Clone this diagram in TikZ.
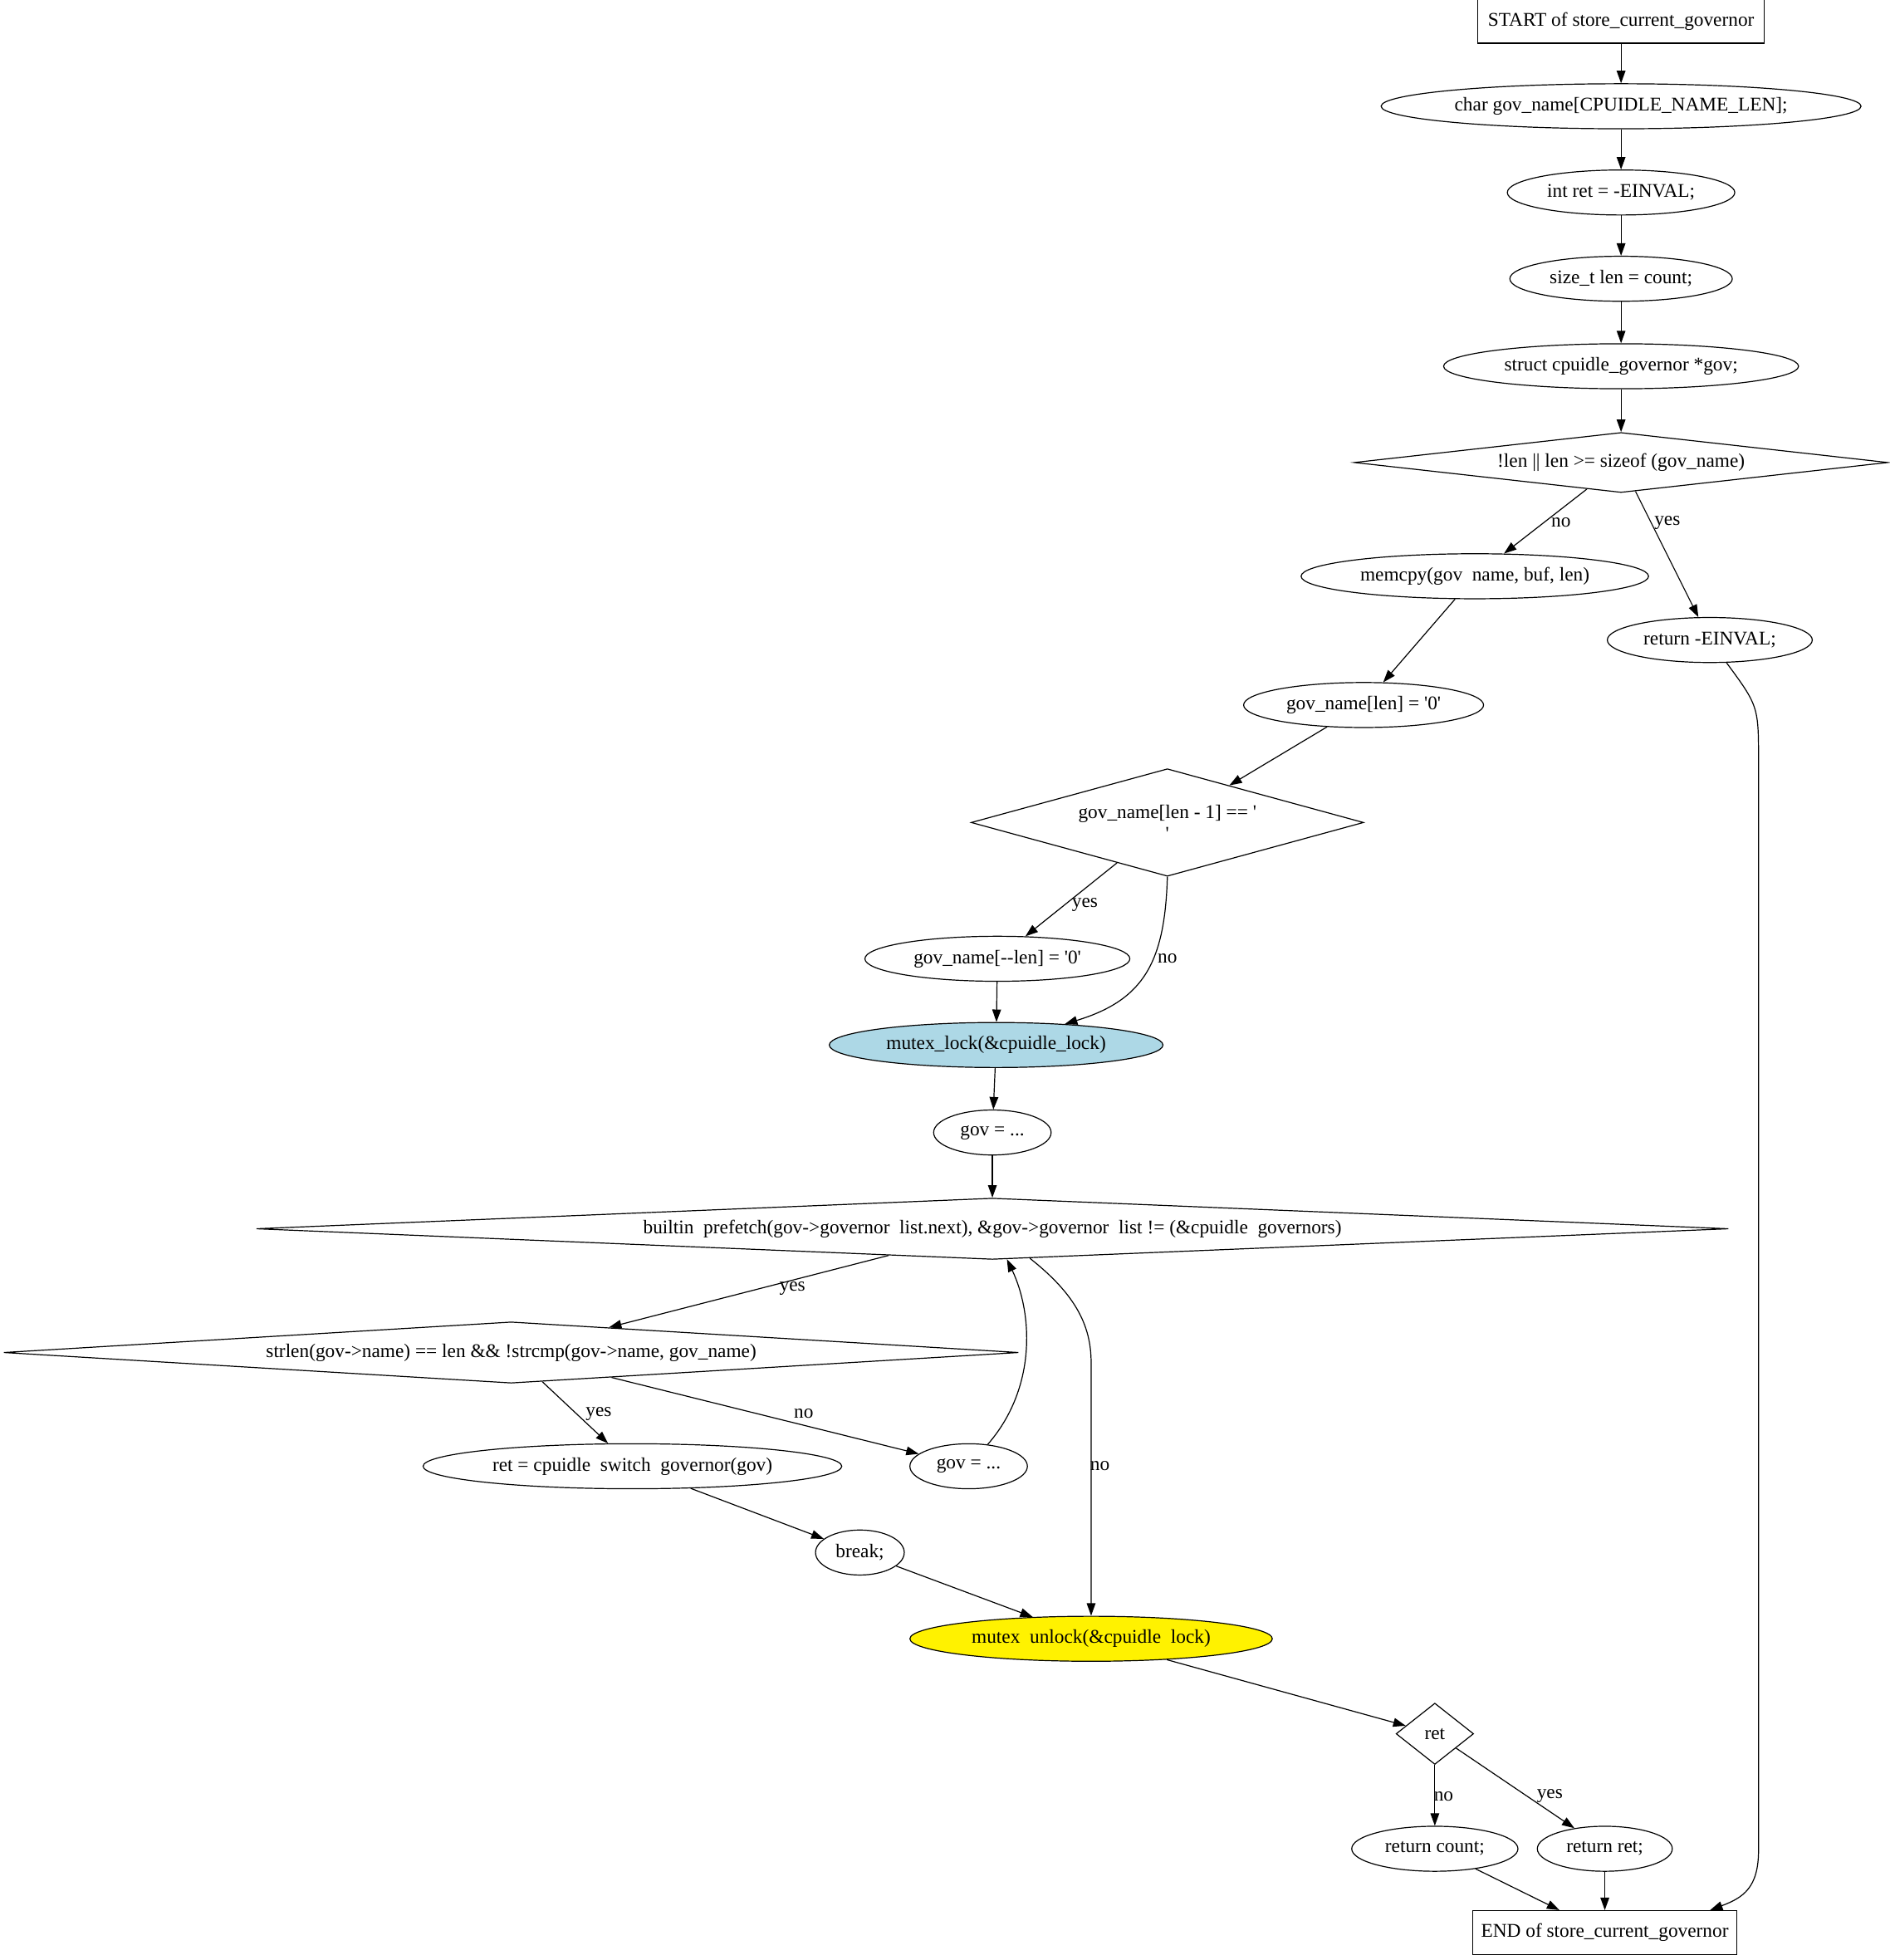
\documentclass[tikz,border=0pt]{standalone}
\usepackage{fontspec}
\setmainfont{Liberation Serif}[Ligatures=TeXOff]
\usepackage{xcolor}
\usepackage{tikz}
\usetikzlibrary{shapes,arrows,arrows.meta}

\definecolor{lightblue}{HTML}{ADD8E6}
\newcommand{\hus}{\phantom{\_}}

\begin{document}
\begin{tikzpicture}[x=1pt, y=-1pt, line width=0.8pt, >={Triangle[length=10pt,width=7pt]},
    every node/.style={font=\fontsize{15.5}{17}\selectfont, inner sep=0pt},
    blk/.style={rectangle, draw, minimum height=35},
    stmt/.style={ellipse, draw, minimum height=36},
    cond/.style={diamond, draw}]
    \useasboundingbox (0,0) rectangle (1512,1568);

    		\node (st)[blk, minimum width=229] at (1297,17) {START of store\_current\_governor};
    		\node (cg)[stmt, minimum width=384] at (1297,85) {char gov\_name[CPUIDLE\_NAME\_LEN];};
    		\node (ir)[stmt, minimum width=182] at (1297,154) {int ret = -EINVAL;};
    		\node (sl)[stmt, minimum width=178] at (1297,223) {size\_t len = count;};
    		\node (sg)[stmt, minimum width=284] at (1297,293) {struct cpuidle\_governor *gov;};
    		\node (d1)[cond, minimum width=427, minimum height=48, shape aspect=8.9] at (1297,370) {!len || len >= sizeof (gov\_name)};

        	\node (mc)[stmt, minimum width=278] at (1180,461) {memcpy(gov\hus name, buf, len)};
        	\node (re)[stmt, minimum width=164] at (1368,512) {return -EINVAL;};
        	\node (gl)[stmt, minimum width=192] at (1091,564) {gov\_name[len] = '0'};
        	\node (d2)[cond, minimum width=314, minimum height=86, shape aspect=3.65, align=center] at (934,658) {gov\_name[len - 1] == '\\'};
        	\node (gm)[stmt, minimum width=212] at (798,767) {gov\_name[--len] = '0'};
        	\node (ml)[stmt, minimum width=267, fill=lightblue] at (797,836) {mutex\_lock(\&cpuidle\_lock)};
        	\node (g1)[stmt, minimum width=94] at (794,906) {gov = ...};
        	\node (lp)[cond, minimum width=1178, minimum height=49, shape aspect=24] at (794,983) {builtin\hus prefetch(gov->governor\hus list.next), \&gov->governor\hus list != (\&cpuidle\hus governors)};
        	\node (sc)[cond, minimum width=812, minimum height=49, shape aspect=16.6] at (409,1082) {strlen(gov->name) == len \&\& !strcmp(gov->name, gov\_name)};
        	\node (rs)[stmt, minimum width=335] at (506,1173) {ret = cpuidle\hus switch\hus governor(gov)};
        	\node (g2)[stmt, minimum width=94] at (775,1173) {gov = ...};
        	\node (bk)[stmt, minimum width=71] at (688,1242) {break;};
        	\node (mu)[stmt, minimum width=290, fill=yellow] at (873,1311) {mutex\hus unlock(\&cpuidle\hus lock)};
        	\node (rd)[cond, minimum width=62, minimum height=49, shape aspect=1.27] at (1148,1387) {ret};
        	\node (rc)[stmt, minimum width=133] at (1148,1479) {return count;};
        	\node (rr)[stmt, minimum width=108] at (1284,1479) {return ret;};
        	\node (en)[blk, minimum width=211] at (1284,1546) {END of store\_current\_governor};

        	\node (no1) at (1249,418) {no};
        	\node (ye1) at (1334,418) {yes};
        	\node (ye2) at (868,724) {yes};
        	\node (no2) at (934,767) {no};
        	\node (ye3) at (634,1031) {yes};
        	\node (no3) at (880,1173) {no};
        	\node (ye4) at (479,1131) {yes};
        	\node (no4) at (643,1131) {no};
        	\node (no5) at (1155,1437) {no};
        	\node (ye5) at (1240,1437) {yes};

        	\draw[->] (st) -- (cg);
        	\draw[->] (cg) -- (ir);
        	\draw[->] (ir) -- (sl);
        	\draw[->] (sl) -- (sg);
        	\draw[->] (sg) -- (d1);
        	\draw[->] (d1) -- (mc);
        	\draw[->] (d1) -- (re);
        	\draw[->] (mc) -- (gl);
        	\draw[->] (gl) -- (d2);
        	\draw[->] (d2) -- (gm);
        	\draw[->] (d2.south) .. controls (932,770) and (915,800) .. (ml);
        	\draw[->] (gm) -- (ml);
        	\draw[->] (ml) -- (g1);
        	\draw[->] (g1) -- (lp);
        	\draw[->] (lp) -- (sc);
        	\draw[->] (lp) .. controls (860,1035) and (873,1060) .. (873,1090) -- (mu);
        	\draw[->] (sc) -- (rs);
        	\draw[->] (sc) -- (g2);
        	\draw[->] (g2) .. controls (830,1110) and (826,1050) .. (lp);
        	\draw[->] (rs) -- (bk);
        	\draw[->] (bk) -- (mu);
        	\draw[->] (mu) -- (rd);
        	\draw[->] (rd) -- (rc);
        	\draw[->] (rd) -- (rr);
        	\draw[->] (rc) -- (en);
        	\draw[->] (rr) -- (en);
        	\draw[->] (re) .. controls (1407,565) .. (1407,610) -- (1407,1480) .. controls (1407,1510) and (1395,1518) .. (en.12);

    	\end{tikzpicture}
\end{document}
